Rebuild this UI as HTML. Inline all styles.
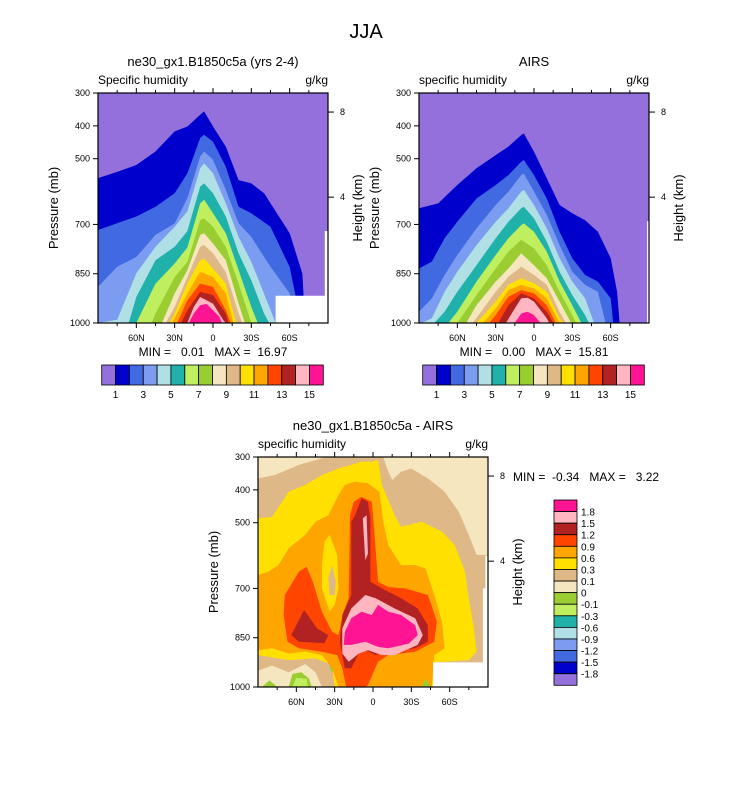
<!DOCTYPE html>
<html><head><meta charset="utf-8"><style>
body{margin:0;background:#fff;}
svg text{font-family:"Liberation Sans",sans-serif;fill:#000;white-space:pre;}
</style></head><body>
<svg id="fig" width="733" height="784" viewBox="0 0 733 784" xmlns="http://www.w3.org/2000/svg">
<text x="366" y="38" font-size="20" text-anchor="middle">JJA</text>
</svg>
<script>
// ---------- data ----------
const levelColors=["#9370DB","#0000CD","#4169E1","#7B9CF0","#B0E0E6","#20B2AA","#BFEF5F","#9ACD32","#F5E6C0","#DEB887","#FFE000","#FFA500","#FF4500","#B22222","#FFB6C1","#FF1493"];
const fieldLabels=["1","3","5","7","9","11","13","15"];
const diffLabels=["1.8","1.5","1.2","0.9","0.6","0.3","0.1","0","-0.1","-0.3","-0.6","-0.9","-1.2","-1.5","-1.8"];
const pressureTicks=[300,400,500,700,850,1000];
const latTicks=[60,30,0,-30,-60];
const latTickLabels=["60N","30N","0","30S","60S"];
const heightTicks=[358,617];
const heightLabels=["8","4"];
// model boundaries (lat, pressure top of each level)
const c1=[[90,559],[75,540],[60,519],[45,478],[30,417],[20,402],[10,366],[7,356],[0,402],[-10,463],[-20,565],[-30,575],[-40,605],[-50,666],[-60,727],[-70,850],[-72,1000]];
const c2=[[90,717],[60,676],[45,646],[30,605],[20,544],[10,437],[7,427],[0,448],[-10,524],[-20,646],[-30,666],[-45,707],[-60,830],[-65,925],[-66,1000]];
const c3=[[90,890],[75,829],[60,799],[45,732],[30,697],[20,620],[10,493],[7,478],[0,503],[-10,595],[-20,697],[-30,738],[-45,829],[-60,910],[-63,1000]];
const c4=[[90,1000],[75,990],[60,849],[45,768],[30,707],[20,660],[10,529],[7,514],[0,544],[-10,636],[-20,738],[-30,814],[-45,960],[-49,1000]];
const c5=[[66,1000],[60,921],[45,809],[30,768],[20,720],[10,585],[7,575],[0,605],[-10,676],[-20,788],[-30,870],[-40,971],[-44,1000]];
const c6=[[60,1000],[45,880],[30,819],[20,770],[10,636],[7,625],[0,666],[-10,727],[-20,839],[-30,951],[-35,1000]];
const c7=[[48,1000],[45,971],[30,860],[20,814],[10,687],[7,681],[0,707],[-10,768],[-20,880],[-30,1000]];
const c8=[[40,1000],[30,910],[20,839],[10,732],[7,727],[0,758],[-10,809],[-20,941],[-25,1000]];
const c9=[[37,1000],[30,951],[20,860],[10,768],[7,763],[0,788],[-10,845],[-20,971],[-23,1000]];
const c10=[[34,1000],[30,971],[20,880],[10,809],[7,804],[0,834],[-10,880],[-18,1000]];
const c11=[[32,1000],[20,910],[10,844],[0,860],[-10,910],[-16,1000]];
const c12=[[28,1000],[20,931],[10,880],[0,890],[-10,961],[-14,1000]];
const c13=[[25,1000],[20,961],[10,905],[0,915],[-10,971],[-12,1000]];
const c14=[[20,1000],[15,951],[10,921],[0,941],[-8,991],[-10,1000]];
const c15=[[19,1000],[15,971],[10,946],[5,942],[0,961],[-5,981],[-7,1000]];
// AIRS boundaries
const a1=[[90,651],[75,636],[60,580],[45,529],[30,489],[20,463],[10,428],[8,423],[0,479],[-10,560],[-20,641],[-30,666],[-40,687],[-50,722],[-60,803],[-65,905],[-67,1000]];
const a2=[[90,834],[80,813],[70,742],[60,692],[45,621],[30,580],[20,550],[10,509],[8,504],[0,550],[-10,621],[-20,722],[-30,803],[-40,854],[-50,874],[-60,925],[-62,1000]];
const a3=[[90,966],[80,925],[70,854],[60,793],[45,712],[30,641],[20,600],[10,550],[8,545],[0,600],[-10,671],[-20,763],[-30,844],[-40,884],[-50,905],[-56,1000]];
const a4=[[88,1000],[80,986],[70,905],[60,844],[45,763],[30,692],[20,651],[10,600],[8,595],[0,641],[-10,712],[-20,803],[-30,874],[-40,925],[-47,1000]];
const a5=[[78,1000],[70,966],[60,905],[45,824],[30,742],[20,692],[10,651],[8,646],[0,681],[-10,753],[-20,844],[-30,915],[-40,976],[-43,1000]];
const a6=[[67,1000],[60,966],[45,874],[30,793],[20,742],[10,702],[8,697],[0,722],[-10,783],[-20,874],[-30,946],[-37,1000]];
const a7=[[60,1000],[45,915],[30,834],[20,783],[10,747],[0,773],[-10,824],[-20,905],[-30,976],[-33,1000]];
const a8=[[53,1000],[45,946],[30,874],[20,834],[10,788],[0,824],[-10,864],[-20,935],[-29,1000]];
const a9=[[48,1000],[30,905],[20,859],[10,829],[0,854],[-10,884],[-20,966],[-25,1000]];
const a10=[[45,1000],[30,935],[20,884],[10,864],[0,879],[-10,905],[-20,986],[-23,1000]];
const a11=[[40,1000],[30,956],[20,900],[10,884],[0,895],[-10,925],[-20,1000]];
const a12=[[35,1000],[30,976],[20,920],[10,900],[0,910],[-10,946],[-17,1000]];
const a13=[[28,1000],[20,946],[10,910],[0,925],[-10,966],[-15,1000]];
const a14=[[22,1000],[15,956],[10,925],[5,923],[0,935],[-10,986],[-12,1000]];
const a15=[[15,1000],[10,971],[5,966],[0,976],[-5,1000]];
// difference polygons (lat, pressure)
const dBurly=[[90,300],[-90,300],[-90,1000],[90,1000]];
const dWheatLeft=[[90,300],[36,300],[40,304],[58,324],[77,355],[90,365]];
const dWheatRight=[[-8,300],[-11,335],[-15,370],[-22,345],[-30,335],[-43,365],[-56,406],[-67,466],[-75,537],[-81,598],[-90,598],[-90,300]];
const dGold=[[90,487],[79,482],[66,406],[53,385],[40,355],[27,335],[17,324],[9,314],[1,314],[-4,309],[-7,385],[-17,477],[-22,512],[-38,497],[-54,527],[-64,568],[-72,649],[-75,730],[-79,820],[-81,893],[-75,918],[-47,925],[-47,1000],[30,1000],[32,933],[45,913],[66,918],[90,903]];
const dOrange=[[90,659],[82,649],[74,629],[66,578],[53,537],[45,497],[35,477],[27,416],[22,385],[14,375],[4,380],[-5,406],[-8,497],[-12,568],[-22,629],[-33,629],[-41,639],[-48,720],[-54,801],[-56,882],[-48,903],[-46,1000],[27,1000],[32,943],[40,903],[53,892],[66,898],[79,882],[90,888]];
const dGoldIsland=[[34,537],[28,598],[27,700],[30,750],[34,770],[40,700],[40,629],[38,558]];
const dBurlyIsland=[[32,629],[29,680],[30,720],[34,720],[35,670]];
const dRed=[[69,720],[58,649],[52,634],[47,680],[40,771],[32,832],[27,842],[23,771],[19,730],[18,477],[15,436],[9,421],[1,436],[0,477],[-4,680],[-12,696],[-25,700],[-43,720],[-50,801],[-48,862],[-33,893],[-12,903],[-4,923],[4,994],[6,1000],[21,1000],[24,943],[28,903],[40,893],[58,882],[67,862],[70,781]];
const dBrickLeft=[[64,842],[54,766],[51,781],[44,821],[35,842],[38,867],[58,862]];
const dBrick=[[17,497],[14,477],[9,426],[4,436],[2,487],[2,680],[-7,700],[-22,730],[-35,761],[-43,812],[-43,862],[-33,882],[-12,893],[-2,903],[9,882],[17,943],[22,943],[26,862],[24,781],[17,720]];
const dPinkLine=[[8,487],[5,477],[4,594],[6,614]];
const dPink=[[24,821],[17,761],[6,720],[-2,730],[-7,740],[-17,761],[-33,791],[-39,842],[-35,872],[-17,903],[-7,903],[4,888],[11,898],[19,923],[24,898]];
const dMagenta=[[22,832],[17,791],[9,771],[1,781],[-4,750],[-12,771],[-22,781],[-33,812],[-35,842],[-28,868],[-12,882],[-4,878],[6,862],[17,872],[23,872]];
const dWheatBottom=[[90,950],[79,935],[66,955],[53,930],[45,955],[40,1000],[90,1000]];
const dGreen1=[[87,1000],[81,980],[75,1000]];
const dGreen2=[[66,1000],[63,960],[56,955],[50,975],[48,1000]];
const dLtGreen=[[63,1000],[60,972],[52,975],[51,1000]];
const dGreen4=[[34,940],[33,922],[31,935],[32,958]];
const dGreen3=[[-38,1000],[-41,975],[-45,1000]];

// ---------- drawing ----------
const NS="http://www.w3.org/2000/svg";
const svg=document.getElementById("fig");
function mk(tag,attrs,parent){const e=document.createElementNS(NS,tag);for(const k in attrs)e.setAttribute(k,attrs[k]);(parent||svg).appendChild(e);return e;}
function makePanel(x0,y0){const w=230,h=230;return{x0,y0,w,h,x:lat=>x0+(90-lat)/180*w,y:p=>y0+(p-300)/700*h};}
function poly(P,pts,fill,g,closeBottom){let a=pts.map(d=>[P.x(d[0]),P.y(d[1])]);
 if(closeBottom){a.push([P.x(pts[pts.length-1][0]),P.y(1000)]);a.push([P.x(pts[0][0]),P.y(1000)]);}
 return mk("polygon",{points:a.map(q=>q[0].toFixed(1)+","+q[1].toFixed(1)).join(" "),fill:fill},g);}
function axes(P,id,leftTitle,rightTitle,title){
 const t=mk("text",{x:P.x0+P.w/2,y:P.y0-27,"font-size":13,"text-anchor":"middle"});t.textContent=title;
 
 
 const l=mk("text",{x:P.x0,y:P.y0-9,"font-size":12});l.textContent=leftTitle;
 
 
 const r=mk("text",{x:P.x0+P.w,y:P.y0-9,"font-size":12,"text-anchor":"end"});r.textContent=rightTitle;
 
 
 const fr=mk("rect",{x:P.x0,y:P.y0,width:P.w,height:P.h,fill:"none",stroke:"#000","stroke-width":1.2});
 
 
 pressureTicks.forEach(p=>{const y=P.y(p);mk("line",{x1:P.x0-5,x2:P.x0,y1:y,y2:y,stroke:"#000"});
  const tx=mk("text",{x:P.x0-8,y:y+3,"font-size":9,"text-anchor":"end"});tx.textContent=p;
  
  });
 latTicks.forEach((lat,i)=>{const x=P.x(lat);
  mk("line",{x1:x,x2:x,y1:P.y0+P.h,y2:P.y0+P.h+5,stroke:"#000"});
  mk("line",{x1:x,x2:x,y1:P.y0,y2:P.y0-5,stroke:"#000"});
  const tx=mk("text",{x:x,y:P.y0+P.h+18,"font-size":9,"text-anchor":"middle"});tx.textContent=latTickLabels[i];
  
  });
 for(let lat=75;lat>-90;lat-=15){if(lat%30===0)continue;const x=P.x(lat);
  mk("line",{x1:x,x2:x,y1:P.y0+P.h,y2:P.y0+P.h+3,stroke:"#000"});mk("line",{x1:x,x2:x,y1:P.y0,y2:P.y0-3,stroke:"#000"});}
 heightTicks.forEach((p,i)=>{const y=P.y(p);mk("line",{x1:P.x0+P.w,x2:P.x0+P.w+6,y1:y,y2:y,stroke:"#000"});
  const tx=mk("text",{x:P.x0+P.w+12,y:y+3,"font-size":9});tx.textContent=heightLabels[i];
  
  });
 const yl=mk("text",{x:0,y:0,"font-size":13,"text-anchor":"middle",transform:`translate(${P.x0-40},${P.y0+P.h/2}) rotate(-90)`});yl.textContent="Pressure (mb)";
 
 
 const hl=mk("text",{x:0,y:0,"font-size":13,"text-anchor":"middle",transform:`translate(${P.x0+P.w+34},${P.y0+P.h/2}) rotate(-90)`});hl.textContent="Height (km)";
 
 
}
function clipGroup(P,id){const cp=mk("clipPath",{id:"clip-"+id});mk("rect",{x:P.x0,y:P.y0,width:P.w,height:P.h},cp);
 return mk("g",{"clip-path":`url(#clip-${id})`});}
function levelPanel(P,id,levels,masks){
 const g=clipGroup(P,id);
 
 
 mk("rect",{x:P.x0,y:P.y0,width:P.w,height:P.h,fill:levelColors[0]},g);
 levels.forEach((lv,i)=>{const e=poly(P,lv,levelColors[i+1],g,true);
  
  });
 masks.forEach(m=>{const e=poly(P,m,"#fff",g,false);
  
  });
}
function hColorbar(x0,y0,id){const bw=221.6/16;
 levelColors.forEach((c,i)=>{const r=mk("rect",{x:x0+i*bw,y:y0,width:bw,height:20,fill:c,stroke:"#000","stroke-width":0.8});
  
  });
 fieldLabels.forEach((s,i)=>{const t=mk("text",{x:x0+(1+2*i)*bw,y:y0+33,"font-size":10,"text-anchor":"middle"});t.textContent=s;
  
  });
}
// panel 1
const P1=makePanel(98,93);
levelPanel(P1,"model-panel",[c1,c2,c3,c4,c5,c6,c7,c8,c9,c10,c11,c12,c13,c14,c15],[[[-49,917],[-90,917],[-90,1000],[-49,1000]],[[-87.5,720],[-90,720],[-90,1000],[-87.5,1000]]]);
axes(P1,"model-panel","Specific humidity","g/kg","ne30_gx1.B1850c5a (yrs 2-4)");
let mm=mk("text",{x:213,y:356,"font-size":12,"text-anchor":"middle"});mm.textContent="MIN =   0.01   MAX =  16.97";


hColorbar(101.7,365,"model");
// panel 2
const P2=makePanel(419,93);
levelPanel(P2,"airs-panel",[a1,a2,a3,a4,a5,a6,a7,a8,a9,a10,a11,a12,a13,a14,a15],[[[-88.5,690],[-90,690],[-90,1000],[-88.5,1000]]]);
axes(P2,"airs-panel","specific humidity","g/kg","AIRS");
mm=mk("text",{x:534,y:356,"font-size":12,"text-anchor":"middle"});mm.textContent="MIN =   0.00   MAX =  15.81";


hColorbar(422.7,365,"airs");
// panel 3
const P3=makePanel(258,457);
const g3=clipGroup(P3,"diff");


const C=levelColors;
const diffPolys=[[dBurly,C[9]],[dWheatLeft,C[8]],[dWheatRight,C[8]],[dGold,C[10]],[dWheatBottom,C[8]],[dGreen1,C[7]],[dGreen2,C[7]],[dLtGreen,C[6]],[dGreen4,C[7]],[dOrange,C[11]],[dGoldIsland,C[10]],[dBurlyIsland,C[9]],[dRed,C[12]],[dBrickLeft,C[13]],[dBrick,C[13]],[dPinkLine,C[14]],[dPink,C[14]],[dMagenta,C[15]],[dGreen3,C[7]]];
diffPolys.forEach(d=>{const e=poly(P3,d[0],d[1],g3,false);
 
 });
[[[-47,925],[-90,925],[-90,1000],[-47,1000]],[[-86,700],[-90,700],[-90,1000],[-86,1000]],[[-88,600],[-90,600],[-90,1000],[-88,1000]]].forEach(m=>{const e=poly(P3,m,"#fff",g3,false);
 
 });
axes(P3,"difference-panel","specific humidity","g/kg","ne30_gx1.B1850c5a - AIRS");
mm=mk("text",{x:513,y:481,"font-size":12});mm.textContent="MIN =  -0.34   MAX =   3.22";


// vertical colorbar
const vb=185.3/16;
levelColors.slice().reverse().forEach((c,i)=>{const r=mk("rect",{x:554,y:500+i*vb,width:23,height:vb,fill:c,stroke:"#000","stroke-width":0.8});
 
 });
diffLabels.forEach((s,i)=>{const t=mk("text",{x:581,y:500+(i+1)*vb+4,"font-size":10});t.textContent=s;
 
 });
</script>
</body></html>
